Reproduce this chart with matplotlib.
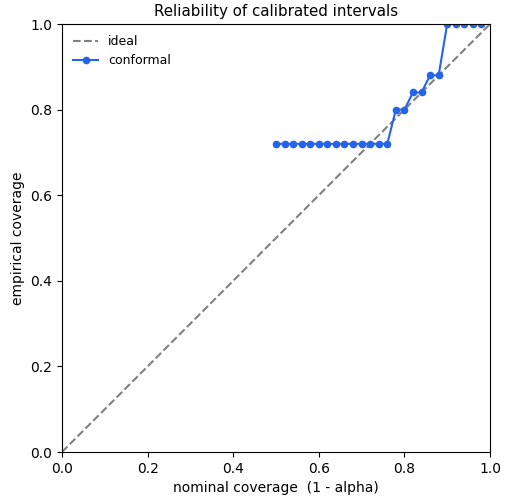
import matplotlib
matplotlib.use("Agg")
import matplotlib.pyplot as plt

nominal = [0.50, 0.52, 0.54, 0.56, 0.58, 0.60, 0.62, 0.64, 0.66, 0.68, 0.70, 0.72, 0.74, 0.76,
           0.78, 0.80, 0.82, 0.84, 0.86, 0.88, 0.90, 0.92, 0.94, 0.96, 0.98]
empirical = [0.72] * 14 + [0.80, 0.80, 0.84, 0.84, 0.88, 0.88, 1.0, 1.0, 1.0, 1.0, 1.0]
ideal = [0.0, 1.0]

fig = plt.figure(figsize=(5.2, 5.0), dpi=100)
ax = fig.add_axes([62/520, 48/500, 428/520, 428/500])
ax.plot(ideal, ideal, linestyle="--", color="gray", label="ideal")
ax.plot(nominal, empirical, marker="o", markersize=4.5, color="#2563eb", label="conformal")
ax.set_xlim(0, 1)
ax.set_ylim(0, 1)
ax.set_xlabel("nominal coverage  (1 - alpha)")
ax.set_ylabel("empirical coverage")
ax.set_title("Reliability of calibrated intervals", fontsize=10.8)
ax.legend(loc="upper left", frameon=False, fontsize=9)
fig.savefig("out.png", dpi=100)
